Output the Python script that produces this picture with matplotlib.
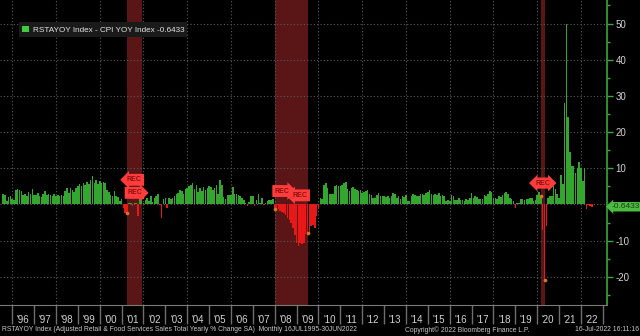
import numpy as np
import pandas as pd
import matplotlib
matplotlib.use("Agg")
import matplotlib.pyplot as plt
from matplotlib.ticker import MultipleLocator, FuncFormatter
from matplotlib.patches import Patch

# real retail sales growth = RSTAYOY - CPI YOY, monthly Jul 1995 - Jun 2022
v1995 = [2.9, 2.5, 0.9, 2.0, 2.3, 1.5]
v1996 = [1.2, 4.0, 4.2, 4.1, 3.8, 2.6, 2.8, 2.2, 3.5, 2.8, 4.2, 2.7]
v1997 = [2.6, 3.2, 2.4, 2.0, 2.8, 3.6, 2.5, 3.0, 2.5, 2.2, 3.0, 2.4]
v1998 = [2.5, 2.3, 2.6, 2.4, 3.8, 4.5, 3.2, 4.5, 4.0, 3.3, 4.6, 5.2]
v1999 = [5.6, 5.0, 5.8, 5.4, 6.3, 5.6, 6.8, 7.8, 6.0, 6.7, 5.6, 6.4]
v2000 = [6.0, 6.2, 5.9, 4.0, 3.5, 2.6, 2.4, 3.8, 2.2, 2.0, 1.0, 1.4]
v2001 = [-1.1, -2.3, -2.4, 0.3, 0.4, -0.5, 0.5, 0.3, -3.2, 4.0, 2.1, 0.5]
v2002 = [1.3, 1.8, 0.9, 2.2, 0.6, 1.7, 2.4, 2.9, -0.2, -3.7, 1.5, 1.9]
v2003 = [-0.9, 1.8, 1.6, 1.9, 2.3, 2.8, 3.2, 4.0, 3.6, 3.0, 4.2, 4.6]
v2004 = [5.2, 5.5, 6.0, 4.2, 5.4, 3.3, 4.4, 3.6, 4.8, 3.9, 4.5, 5.0]
v2005 = [4.8, 3.9, 4.5, 5.3, 2.8, 6.8, 5.5, 2.0, 1.5, 2.5, 2.7, 2.6]
v2006 = [4.7, 2.8, 3.0, 2.6, 2.4, 1.8, 1.2, 0.5, -0.3, 0.8, 2.3, 2.2]
v2007 = [-0.4, 1.2, 2.8, 0.4, 1.8, -0.2, 0.5, 0.9, 1.3, 1.1, 1.4, -1.2]
v2008 = [-1.0, -1.4, -1.8, -2.1, -2.3, -2.8, -3.7, -4.2, -5.0, -6.5, -8.5, -10.8]
v2009 = [-11.4, -10.6, -11.0, -10.6, -8.3, -8.0, -7.9, -6.0, -5.6, -6.5, -3.2, -1.0]
v2010 = [1.8, 1.4, 5.3, 5.8, 4.5, 3.0, 2.8, 3.0, 5.0, 5.3, 5.0, 5.2]
v2011 = [5.5, 6.0, 6.2, 4.2, 3.7, 4.4, 4.9, 4.2, 4.0, 3.6, 3.9, 3.2]
v2012 = [3.5, 3.8, 3.9, 3.0, 2.6, 1.8, 1.9, 2.7, 3.1, 2.2, 2.3, 2.4]
v2013 = [2.0, 2.3, 1.8, 2.3, 3.2, 3.0, 1.8, 2.2, 1.5, 2.2, 2.0, 2.7]
v2014 = [0.9, 1.0, 2.4, 3.0, 2.6, 2.3, 2.2, 3.0, 2.9, 2.5, 3.1, 3.4]
v2015 = [4.0, 2.8, 2.5, 3.0, 2.6, 3.1, 2.4, 2.5, 2.3, 1.0, 1.2, 0.9]
v2016 = [2.5, 2.2, 1.1, 1.2, 1.8, 1.3, 1.2, 1.0, 1.4, 1.1, 1.8, 3.2]
v2017 = [1.9, 2.2, 2.0, 1.6, 1.5, 1.4, 2.6, 2.2, 2.9, 3.6, 3.3, 1.9]
v2018 = [1.8, 1.6, 2.3, 2.1, 2.7, 3.2, 3.3, 3.0, 1.8, 1.5, 1.0, -1.0]
v2019 = [0.5, 0.4, 1.4, 1.6, 1.1, 1.5, 1.4, 1.8, 1.9, 1.0, 1.2, 2.6]
v2020 = [3.4, 2.3, -7.0, -20.8, -6.0, 1.9, 2.3, 2.3, 5.1, 4.2, 3.0, 1.9]
v2021 = [8.0, 5.6, 28.0, 50.0, 24.3, 14.4, 10.6, 10.6, 8.8, 10.2, 11.8, 10.2]
v2022 = [6.5, 10.2, -1.2, -0.2, -0.5, -0.6433]

recessions = [("2001-03", "2001-11"), ("2007-12", "2009-06"), ("2020-02", "2020-04")]
years = list(range(1996, 2023))
year_labels = ["'" + str(y)[2:] for y in years]
legend_label = "RSTAYOY Index - CPI YOY Index"
footer = "RSTAYOY Index (Adjusted Retail & Food Services Sales Total Yearly % Change SA)  Monthly 16JUL1995-30JUN2022"
copyright_txt = "Copyright\u00a9 2022 Bloomberg Finance L.P."
stamp = "16-Jul-2022 16:11:16"

values = np.array(v1995 + v1996 + v1997 + v1998 + v1999 + v2000 + v2001 + v2002 + v2003
                  + v2004 + v2005 + v2006 + v2007 + v2008 + v2009 + v2010 + v2011 + v2012
                  + v2013 + v2014 + v2015 + v2016 + v2017 + v2018 + v2019 + v2020 + v2021 + v2022)
months = pd.date_range("1995-07-01", periods=len(values), freq="MS")
x = months.year + months.month / 12.0  # bloomberg puts the bar on month end


def month_x(s):
    d = pd.Timestamp(s + "-01")
    return d.year + d.month / 12.0


def month_idx(s):
    return list(months).index(pd.Timestamp(s + "-01"))


plt.rcParams["font.family"] = ["Liberation Sans", "DejaVu Sans"]
GREEN = "#34a52e"
RED = "#e81818"
TXT = "#d4d4d4"

fig = plt.figure(figsize=(6.4, 3.36), dpi=100, facecolor="black")
ax = fig.add_axes([0, 31 / 336, 607 / 640, 305 / 336], facecolor="black")

# recession shading
for s, e in recessions:
    ax.axvspan(month_x(s), month_x(e), color="#5a1616", lw=0, zorder=0)

# dotted grid
for y in years + [2023]:
    if y % 2 == 0:
        ax.axvline(y, color="#5a5a5a", lw=0.8, ls=(0, (1, 2)), zorder=1)
for v in range(-20, 51, 10):
    ax.axhline(v, color="#5a5a5a", lw=0.8, ls=(0, (1, 2)), zorder=1)

colors = np.where(values >= 0, GREEN, RED)
ax.bar(x, values, width=0.85 / 12, color=colors, lw=0, zorder=2)

# dots at recession start / end months
for s, e in recessions:
    for d in (s, e):
        i = month_idx(d)
        ax.scatter(x[i], values[i], s=7, color="#d8761e", lw=0, zorder=4)

# REC flags
rec_style = dict(fontsize=5, color="#8a1010", fontweight="bold", zorder=5, va="center")
flag = dict(fc="#ff3c3c", ec="none")
ax.text(month_x("2001-03"), 3.2, "REC", ha="left", bbox=dict(boxstyle="rarrow,pad=0.35", **flag), **rec_style)
ax.text(month_x("2001-11"), 6.8, "REC", ha="right", bbox=dict(boxstyle="larrow,pad=0.35", **flag), **rec_style)
ax.text(month_x("2007-12"), 3.7, "REC", ha="left", bbox=dict(boxstyle="rarrow,pad=0.35", **flag), **rec_style)
ax.text(month_x("2009-06"), 2.5, "REC", ha="right", bbox=dict(boxstyle="larrow,pad=0.35", **flag), **rec_style)
ax.text((month_x("2020-02") + month_x("2020-04")) / 2, 5.9, "REC", ha="center",
        bbox=dict(boxstyle="darrow,pad=0.3", **flag), **rec_style)

ax.set_xlim(1995.44, 2023.19)
ax.set_ylim(-27.8, 56.5)

# right axis
ax.yaxis.tick_right()
ax.yaxis.set_major_locator(MultipleLocator(10))
ax.yaxis.set_minor_locator(MultipleLocator(5))
ax.yaxis.set_major_formatter(FuncFormatter(lambda v, p: "" if v == 0 else "%d" % v))
ax.tick_params(axis="y", which="major", colors="#3aa83a", labelcolor=TXT, length=4, width=1,
               labelsize=7, pad=2)
ax.tick_params(axis="y", which="minor", colors="#3aa83a", length=2, width=1)

# bottom axis: labels mid-year, separators on year boundaries
ax.set_xticks([y + 0.5 for y in years])
ax.set_xticklabels(year_labels)
ax.set_xticks(years + [2023], minor=True)
ax.tick_params(axis="x", which="major", length=0, pad=7, labelcolor=TXT, labelsize=7)
ax.tick_params(axis="x", which="minor", length=14, width=1, color="#6e6e6e")

for side in ["left", "top"]:
    ax.spines[side].set_visible(False)
ax.spines["right"].set_color("#3aa83a")
ax.spines["right"].set_linewidth(1.2)
ax.spines["bottom"].set_color("#7a7a7a")

last_val = values[-1]
leg = ax.legend([Patch(facecolor="#3ccc3c")], ["%s %.4f" % (legend_label, last_val)],
                loc="upper left", bbox_to_anchor=(0.024, 0.94), fontsize=5.9, labelcolor="#e4e4e4",
                facecolor="#1a1a1a", edgecolor="none", framealpha=1, fancybox=False,
                handlelength=0.9, handleheight=0.9, handletextpad=0.4, borderpad=0.4)

# last value tag on the right axis
ax.annotate("%.4f" % last_val, xy=(1.0, last_val), xycoords=ax.get_yaxis_transform(),
            xytext=(3, 0), textcoords="offset points", ha="left", va="center", fontsize=6,
            color="#1e3a1a", bbox=dict(boxstyle="larrow,pad=0.15", fc="#4cbc40", ec="none"),
            annotation_clip=False, zorder=6)

fig.text(0.003, 0.018, footer, fontsize=4.9, color="#c8c8c8", va="center")
fig.text(405 / 640, 0.018, copyright_txt, fontsize=4.9, color="#c8c8c8", va="center")
fig.text(0.999, 0.018, stamp, fontsize=4.9, color="#c8c8c8", va="center", ha="right")

fig.savefig("out.png", dpi=100, facecolor="black")
